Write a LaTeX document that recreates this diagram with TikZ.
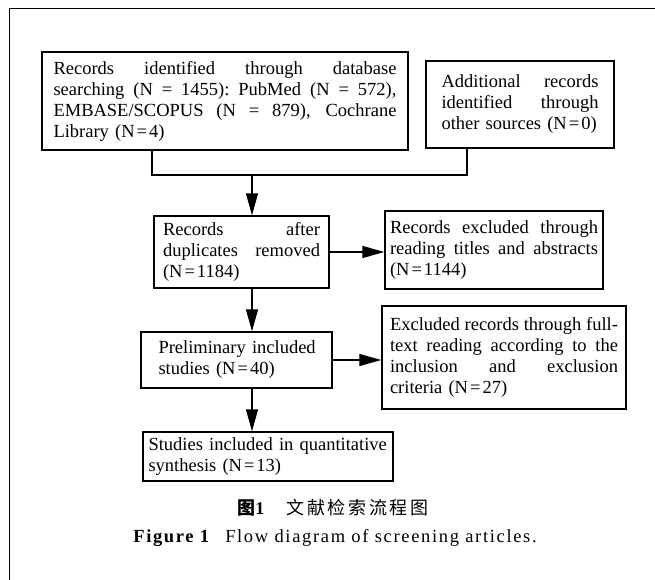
\documentclass[tikz,border=0pt]{standalone}
\usepackage{fontspec}
\setmainfont{Liberation Serif}
\newfontfamily\cjk{Noto Sans CJK SC}
\usetikzlibrary{arrows.meta}
\newcommand\jlw{100pt}
\newcommand\jl[1]{\leavevmode\hbox to\jlw{\spaceskip=0.25em plus 1fil\xspaceskip=0.25em plus 1fil #1}}
\newcommand\eqn[1]{(N\kern2pt=\kern2pt#1)}
\begin{document}
\begin{tikzpicture}[x=1pt,y=-1pt,
  box/.style={draw, line width=1.4pt, inner sep=0pt, align=left,
    font=\fontsize{18.5}{21}\selectfont},
  tw/.style={text width=#1, execute at begin node={\def\jlw{#1}}},
  arr/.style={line width=1.3pt, -{Triangle[length=22pt,width=12pt]}},
  conn/.style={line width=1.3pt},
  frame/.style={line width=1pt}]
\useasboundingbox (0,0) rectangle (655,580);
% partial frame
\coordinate (f0) at (9,9);
\coordinate (f1) at (655,9);
\coordinate (f2) at (9,580);
\draw[frame] (f1) -- (f0) -- (f2);

\node[box, minimum width=366pt, minimum height=98pt, tw=343pt] (A) at (225,101)
 {\jl{Records identified through database}\\
  \jl{searching (N = 1455): PubMed (N = 572),}\\
  \jl{EMBASE/SCOPUS (N = 879), Cochrane}\\
  Library \eqn{4}};

\node[box, minimum width=188pt, minimum height=87pt, tw=157pt] (B) at (520,104.5)
 {\jl{Additional records}\\
  \jl{identified through}\\
  \mbox{other sources \eqn{0}}};

\node[box, minimum width=175pt, minimum height=72pt, tw=157pt] (C) at (241.5,252)
 {\jl{Records after}\\
  \jl{duplicates removed}\\
  \eqn{1184}};

\node[box, minimum width=218pt, minimum height=78pt, tw=208pt] (D) at (494,250)
 {\jl{Records excluded through}\\
  \jl{reading titles and abstracts}\\
  \eqn{1144}};

\node[box, minimum width=191pt, minimum height=56pt, tw=156pt] (E) at (236.5,360)
 {\mbox{Preliminary included}\\
  \mbox{studies \eqn{40}}};

\node[box, minimum width=244pt, minimum height=103pt, tw=228pt] (F) at (504,357.5)
 {\jl{Excluded records through full-}\\
  \jl{text reading according to the}\\
  \jl{inclusion and exclusion}\\
  \mbox{criteria \eqn{27}}};

\node[box, minimum width=250pt, minimum height=49pt, tw=239pt] (G) at (268,456.5)
 {\mbox{Studies included in quantitative}\\
  \mbox{synthesis \eqn{13}}};

% connectors
\coordinate (j1) at (152,175);
\coordinate (j2) at (467,175);
\coordinate (jm) at (252,175);
\draw[conn] (A.south -| j1) -- (j1) -- (j2) -- (B.south -| j2);
\draw[arr] (jm) -- (C.north -| jm);
\draw[arr] (C.east) -- (C.east -| D.west);
\draw[arr] (C.south -| jm) -- (E.north -| jm);
\draw[arr] (E.east) -- (E.east -| F.west);
\draw[arr] (E.south -| jm) -- (G.north -| jm);

% captions
\node[inner sep=0pt, font=\fontsize{18}{20}\selectfont] (cap1) at (333,508)
 {{\cjk\bfseries 图}{\bfseries 1}\hspace{22pt}{\cjk\addfontfeature{LetterSpace=15}文献检索流程图}};
\node[inner sep=0pt, font=\fontsize{18.5}{20}\selectfont\addfontfeature{LetterSpace=9}] (cap2) at (335,538)
 {{\bfseries Figure 1}\hspace{16pt}Flow diagram of screening articles.};
\end{tikzpicture}
\end{document}
